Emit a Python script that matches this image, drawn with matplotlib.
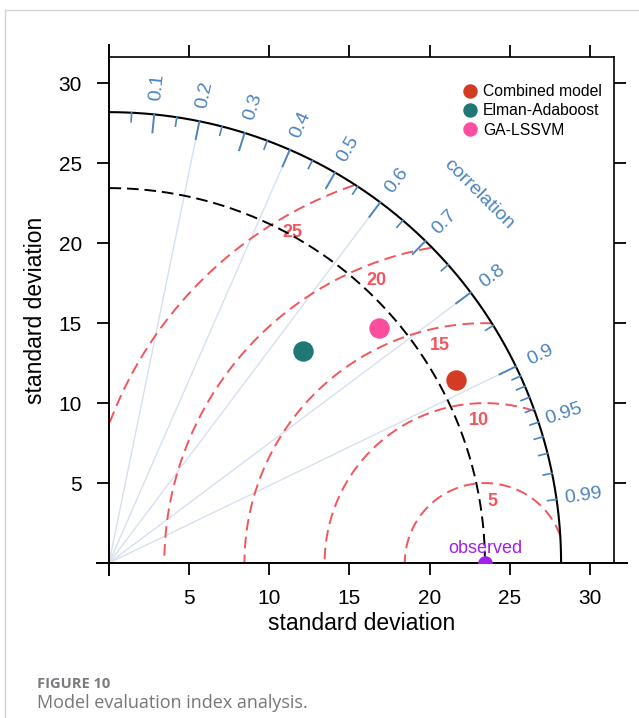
"""Taylor diagram: model evaluation index analysis"""
import numpy as np
import matplotlib
matplotlib.use("Agg")
import matplotlib.pyplot as plt
from matplotlib.lines import Line2D

plt.rcParams["font.family"] = ["Liberation Sans", "DejaVu Sans"]

# data
ref_sd = 23.45  # observed standard deviation
max_sd = 28.2   # outer arc
models = ["Combined model", "Elman-Adaboost", "GA-LSSVM"]
model_sd = [24.49, 17.96, 22.38]
model_corr = [0.884, 0.673, 0.753]
model_colors = ["#d33b22", "#1e7874", "#fd4d9e"]

rms_levels = [5, 10, 15, 20, 25]
corr_major = [0.1, 0.2, 0.3, 0.4, 0.5, 0.6, 0.7, 0.8, 0.9]
corr_labels = [0.1, 0.2, 0.3, 0.4, 0.5, 0.6, 0.7, 0.8, 0.9, 0.95, 0.99]
corr_minor = [0.05, 0.15, 0.25, 0.35, 0.45, 0.55, 0.65, 0.75, 0.85,
              0.91, 0.92, 0.93, 0.94, 0.95, 0.96, 0.97, 0.98, 0.99]
corr_rays = [0.2, 0.4, 0.6, 0.8, 0.9]
axis_ticks = [5, 10, 15, 20, 25, 30]

BLUE = "#4d84bf"
RED = "#f1565d"
PURPLE = "#a020f0"

W, H = 639, 718
fig = plt.figure(figsize=(W / 100, H / 100), dpi=100)
ax = fig.add_axes([109 / W, (H - 563) / H, (614 - 109) / W, (563 - 57) / H])
ax.set_xlim(0, 31.5)
ax.set_ylim(0, 31.65)

# frame: left/bottom drawn as extended lines, top/right as spines
for s in ["left", "bottom"]:
    ax.spines[s].set_visible(False)
for s in ["top", "right"]:
    ax.spines[s].set_linewidth(1.2)
ax.plot([0, 0], [-0.75, 32.4], color="black", lw=1.4, clip_on=False, zorder=5)
ax.plot([-0.75, 32.3], [0, 0], color="black", lw=1.4, clip_on=False, zorder=5)

ax.set_xticks(axis_ticks)
ax.set_yticks(axis_ticks)
ax.tick_params(direction="out", length=8.6, width=1.3, labelsize=15,
               top=True, right=True, labeltop=False, labelright=False)
ax.tick_params(axis="x", pad=10)
ax.tick_params(axis="y", pad=11)
ax.set_xlabel("standard deviation", fontsize=16.5, labelpad=3)
ax.set_ylabel("standard deviation", fontsize=16.5, labelpad=8)

# correlation rays
for c in corr_rays:
    a = np.arccos(c)
    ax.plot([0, max_sd * np.cos(a)], [0, max_sd * np.sin(a)], color="#d6e1f0", lw=1.0, zorder=1)

# RMS contours around the observed point
t = np.linspace(0, np.pi, 600)
for g in rms_levels:
    xs = ref_sd + g * np.cos(t)
    ys = g * np.sin(t)
    keep = (xs >= 0) & (xs ** 2 + ys ** 2 <= max_sd ** 2)
    ax.plot(np.where(keep, xs, np.nan), np.where(keep, ys, np.nan),
            color=RED, lw=1.4, dashes=(6, 3.2), zorder=2)
for i, g in enumerate(rms_levels):
    a = np.radians(83 + 9.3 * i)
    ax.text(ref_sd + (g - 1.1) * np.cos(a), (g - 1.1) * np.sin(a), str(g),
            color=RED, fontsize=13, fontweight="bold", ha="center", va="center", zorder=3)

# sd arcs
q = np.linspace(0, np.pi / 2, 300)
ax.plot(max_sd * np.cos(q), max_sd * np.sin(q), color="black", lw=1.5, zorder=4)
ax.plot(ref_sd * np.cos(q), ref_sd * np.sin(q), color="black", lw=1.4, dashes=(6, 3), zorder=4)

# correlation ticks and labels
for c in corr_major:
    a = np.arccos(c)
    ax.plot([max_sd * np.cos(a), 0.96 * max_sd * np.cos(a)],
            [max_sd * np.sin(a), 0.96 * max_sd * np.sin(a)], color=BLUE, lw=1.4, zorder=4)
for c in corr_minor:
    a = np.arccos(c)
    ax.plot([max_sd * np.cos(a), 0.98 * max_sd * np.cos(a)],
            [max_sd * np.sin(a), 0.98 * max_sd * np.sin(a)], color=BLUE, lw=1.2, zorder=4)
for c in corr_labels:
    a = np.arccos(c)
    r = 1.06 * max_sd
    ax.text(r * np.cos(a), r * np.sin(a), f"{c:g}", color=BLUE, fontsize=14,
            rotation=np.degrees(a), rotation_mode="anchor", ha="center", va="center")
ax.text(32.6 * np.cos(np.pi / 4), 32.6 * np.sin(np.pi / 4), "correlation", color=BLUE,
        fontsize=14, rotation=-45, ha="center", va="center", rotation_mode="anchor")

# observed point
ax.plot([ref_sd], [0], "o", color=PURPLE, markersize=9.5, zorder=6, clip_on=True)
ax.text(ref_sd, 0.9, "observed", color=PURPLE, fontsize=13, ha="center", va="center", zorder=6)

# models
for name, s, c, col in zip(models, model_sd, model_corr, model_colors):
    a = np.arccos(c)
    ax.plot(s * np.cos(a), s * np.sin(a), "o", color=col, markersize=13.7, label=name, zorder=7)

handles = [Line2D([], [], marker="o", ls="", color=col, markersize=9.4) for col in model_colors]
ax.legend(handles, models, loc="upper left", bbox_to_anchor=(462 / W, 1 - 84 / H),
          bbox_transform=fig.transFigure, frameon=False, fontsize=11.3, handlelength=1.0,
          handletextpad=0.35, labelspacing=0.28, borderpad=0, borderaxespad=0)

# page furniture
fig.add_artist(Line2D([5 / W, 5 / W], [0, 1 - 10 / H], color="#d4d4d4", lw=1))
fig.add_artist(Line2D([5 / W, 1], [1 - 10 / H, 1 - 10 / H], color="#d4d4d4", lw=1))
fig.text(37 / W, 1 - 684 / H, "FIGURE 10", fontsize=10.5, color="#7a7b7e",
         family=["Open Sans", "DejaVu Sans"], fontweight="bold", va="center")
fig.text(37 / W, 1 - 703 / H, "Model evaluation index analysis.", fontsize=13, color="#777777",
         family=["Open Sans", "DejaVu Sans"], va="center")

fig.savefig("out.png", dpi=100)
